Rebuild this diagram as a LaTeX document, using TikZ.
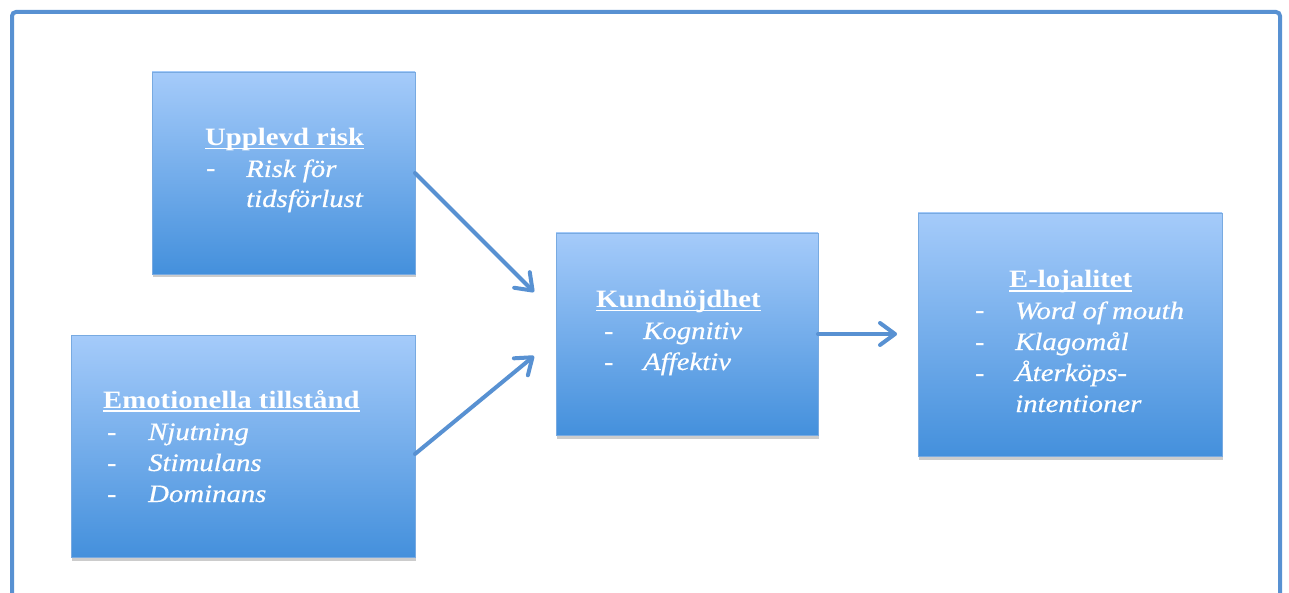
\documentclass[tikz,border=0pt]{standalone}
\usepackage{fontspec}
\setmainfont[FakeStretch=1.15,ItalicFeatures={FakeBold=0.6}]{Liberation Serif}
\usetikzlibrary{arrows.meta,shadows,calc}
\definecolor{frameblue}{RGB}{88,145,210}
\definecolor{boxtop}{RGB}{165,203,250}
\definecolor{boxbot}{RGB}{68,144,220}
\definecolor{boxedge}{RGB}{120,170,225}
\newcommand\myul[1]{\setbox0=\hbox{#1}\rlap{\rule[-3.5pt]{\wd0}{1.6pt}}\box0}
\begin{document}
\begin{tikzpicture}[x=1pt,y=-1pt,
  box/.style={draw=boxedge, line width=0.8pt, top color=boxtop, bottom color=boxbot,
    anchor=north west, inner sep=0pt, outer sep=0pt,
    drop shadow={opacity=0.4,shadow xshift=1pt,shadow yshift=-3.5pt}},
  txt/.style={anchor=base west, text=white, inner sep=0pt, font=\fontsize{25}{30}\selectfont\itshape},
  head/.style={anchor=base west, text=white, inner sep=0pt, font=\fontsize{25}{30}\selectfont\bfseries},
  bullet/.style={anchor=base west, text=white, inner sep=0pt, font=\fontsize{25}{30}\selectfont\bfseries},
  conn/.style={draw=frameblue, line width=4pt, line cap=round,
    -{Straight Barb[length=15pt,width=22pt,round]}}]
\useasboundingbox (0,0) rectangle (1289,593);
\clip (0,0) rectangle (1289,593);
\fill[white] (0,0) rectangle (1289,593);
\draw[frameblue, line width=4pt, rounded corners=4pt] (12,12) rectangle (1280,650);

\node[box, minimum width=263, minimum height=202] (A) at (152,72) {};
\node[box, minimum width=344, minimum height=222] (B) at (71,335) {};
\node[box, minimum width=262, minimum height=202] (C) at (556,233) {};
\node[box, minimum width=304, minimum height=243] (D) at (918,213) {};

% Box A
\node[head] (ah) at (205,146) {\myul{Upplevd risk}};
\node[bullet] (ad1) at (206,177) {-};
\node[txt] (a1) at (246,177) {Risk för};
\node[txt] (a2) at (246,207) {tidsförlust};
% Box B
\node[head] (bh) at (103,408) {\myul{Emotionella tillstånd}};
\node[bullet] (bd1) at (107,440) {-};
\node[txt] (b1) at (148,440) {Njutning};
\node[bullet] (bd2) at (107,471) {-};
\node[txt] (b2) at (148,471) {Stimulans};
\node[bullet] (bd3) at (107,502) {-};
\node[txt] (b3) at (148,502) {Dominans};
% Box C
\node[head] (ch) at (596,308) {\myul{Kundnöjdhet}};
\node[bullet] (cd1) at (604,339) {-};
\node[txt] (c1) at (643,339) {Kognitiv};
\node[bullet] (cd2) at (604,370) {-};
\node[txt] (c2) at (643,370) {Affektiv};
% Box D
\node[head] (dh) at (1009,288) {\myul{E-lojalitet}};
\node[bullet] (dd1) at (975,319) {-};
\node[txt] (d1) at (1015,319) {Word of mouth};
\node[bullet] (dd2) at (975,350) {-};
\node[txt] (d2) at (1015,350) {Klagomål};
\node[bullet] (dd3) at (975,381) {-};
\node[txt] (d3) at (1015,381) {Återköps-};
\node[txt] (d4) at (1015,412) {intentioner};

\coordinate (t1) at (534,292);
\coordinate (t2) at (534,356);
\coordinate (t3) at ($(C.east)+(79,0)$);
\draw[conn] (A.east) -- (t1);
\draw[conn] ($(B.east)+(0,8)$) -- (t2);
\draw[conn] (C.east) -- (t3);
\end{tikzpicture}
\end{document}
